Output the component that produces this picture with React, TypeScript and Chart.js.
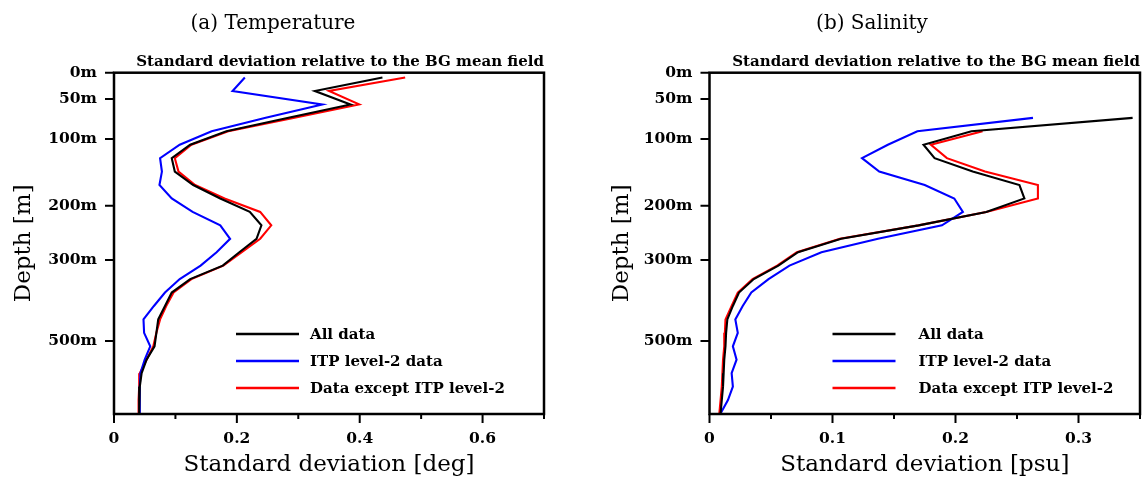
import React, { useEffect, useRef } from 'react';
import { Chart, registerables } from 'chart.js';

Chart.register(...registerables);

// Model levels (vertical coordinate, in level units) and depth tick positions/labels
const LEVELS = [0.36, 1.36, 2.36, 3.36, 4.36, 5.36, 6.36, 7.36, 8.36, 9.36, 10.36, 11.36, 12.36, 13.36, 14.36, 15.36, 16.36, 17.36, 18.36, 19.36, 20.36, 21.36, 22.36, 23.36, 24.36, 25.36];
const LEVEL_MAX = 25.4;
const DEPTH_TICK_POS = [0, 1.96, 4.93, 9.9, 13.94, 19.96];
const DEPTH_TICK_LABELS = ['0m', '50m', '100m', '200m', '300m', '500m'];

const SERIES_LABELS = ['All data', 'ITP level-2 data', 'Data except ITP level-2'];
const SERIES_COLORS = ['#000000', '#0000ff', '#ff0000'];

// (a) Temperature standard deviation [deg]
const TEMP_ALL = [0.437, 0.327, 0.385, 0.284, 0.183, 0.124, 0.094, 0.099, 0.129, 0.173, 0.221, 0.240, 0.232, 0.204, 0.177, 0.124, 0.094, 0.083, 0.072, 0.069, 0.066, 0.053, 0.045, 0.042, 0.041, 0.041];
const TEMP_ITP = [0.213, 0.193, 0.339, 0.247, 0.159, 0.107, 0.075, 0.078, 0.074, 0.094, 0.128, 0.173, 0.189, 0.167, 0.141, 0.107, 0.083, 0.065, 0.048, 0.049, 0.059, 0.050, 0.043, 0.042, 0.042, 0.042];
const TEMP_EXCEPT = [0.474, 0.350, 0.399, 0.292, 0.186, 0.126, 0.099, 0.105, 0.132, 0.180, 0.238, 0.256, 0.238, 0.208, 0.178, 0.126, 0.097, 0.085, 0.075, 0.069, 0.064, 0.053, 0.042, 0.041, 0.040, 0.040];
const TEMP_X_TICKS = [0, 0.2, 0.4, 0.6];
const TEMP_X_MINOR = [0.1, 0.3, 0.5, 0.7];
const TEMP_X_MAX = 0.7;

// (b) Salinity standard deviation [psu]
const SAL_ALL = [null, null, null, 0.344, 0.213, 0.174, 0.183, 0.214, 0.252, 0.256, 0.225, 0.170, 0.107, 0.072, 0.056, 0.036, 0.024, 0.019, 0.0145, 0.0135, 0.013, 0.012, 0.0115, 0.011, 0.010, 0.009];
const SAL_ITP = [null, null, null, 0.263, 0.169, 0.145, 0.124, 0.138, 0.175, 0.199, 0.206, 0.189, 0.137, 0.091, 0.065, 0.048, 0.034, 0.027, 0.021, 0.023, 0.019, 0.022, 0.018, 0.019, 0.015, 0.009];
const SAL_EXCEPT = [null, null, null, null, 0.222, 0.180, 0.193, 0.224, 0.267, 0.267, 0.225, 0.170, 0.106, 0.071, 0.055, 0.035, 0.023, 0.018, 0.013, 0.0125, 0.012, 0.011, 0.0105, 0.010, 0.009, 0.008];
const SAL_X_TICKS = [0, 0.1, 0.2, 0.3];
const SAL_X_MINOR = [0.05, 0.15, 0.25, 0.35];
const SAL_X_MAX = 0.35;

const FONT = '"DejaVu Serif", "Liberation Serif", serif';
const W = 571;
const H = 477;

type PanelCfg = {
  title: string;
  titleX: number;
  subtitle: string;
  xTitle: string;
  xMax: number;
  xTicks: number[];
  xMinor: number[];
  yAxisWidth: number;
  padRight: number;
  yTitleX: number;
  legendLine: [number, number];
  legendText: number;
  series: (number | null)[][];
};

const LEGEND_ROWS = [334, 361, 388];

function fmt(v: number) {
  return v === 0 ? '0' : String(+v.toFixed(2));
}

function panelPlugin(cfg: PanelCfg) {
  return {
    id: 'panelDecor',
    afterDraw(chart: any) {
      const { ctx, chartArea: a } = chart;
      const x = chart.scales.x;
      const y = chart.scales.y;
      ctx.save();
      ctx.strokeStyle = '#000';
      ctx.lineWidth = 2.5;
      ctx.strokeRect(a.left, a.top, a.right - a.left, a.bottom - a.top);
      ctx.lineWidth = 2;
      ctx.beginPath();
      DEPTH_TICK_POS.forEach((v) => {
        const py = y.getPixelForValue(v);
        ctx.moveTo(a.left - 9, py);
        ctx.lineTo(a.left, py);
      });
      cfg.xTicks.forEach((v) => {
        const px = x.getPixelForValue(v);
        ctx.moveTo(px, a.bottom);
        ctx.lineTo(px, a.bottom + 9);
      });
      cfg.xMinor.forEach((v) => {
        const px = x.getPixelForValue(v);
        ctx.moveTo(px, a.bottom);
        ctx.lineTo(px, a.bottom + 5);
      });
      ctx.stroke();

      ctx.fillStyle = '#000';
      ctx.textBaseline = 'alphabetic';
      ctx.font = `20px ${FONT}`;
      ctx.textAlign = 'center';
      ctx.fillText(cfg.title, cfg.titleX, 29);

      ctx.font = `bold 15px ${FONT}`;
      ctx.textAlign = 'right';
      ctx.fillText(cfg.subtitle, a.right, 66);

      ctx.font = `23px ${FONT}`;
      ctx.textAlign = 'center';
      ctx.fillText(cfg.xTitle, (a.left + a.right) / 2, 471);

      ctx.save();
      ctx.translate(cfg.yTitleX, (a.top + a.bottom) / 2);
      ctx.rotate(-Math.PI / 2);
      ctx.textBaseline = 'middle';
      ctx.textAlign = 'center';
      ctx.fillText('Depth [m]', 0, 0);
      ctx.restore();

      ctx.font = `bold 15px ${FONT}`;
      ctx.textAlign = 'left';
      ctx.textBaseline = 'middle';
      chart.data.datasets.forEach((ds: any, i: number) => {
        const ly = LEGEND_ROWS[i];
        ctx.strokeStyle = ds.borderColor;
        ctx.lineWidth = 2.4;
        ctx.beginPath();
        ctx.moveTo(a.left + cfg.legendLine[0], ly);
        ctx.lineTo(a.left + cfg.legendLine[1], ly);
        ctx.stroke();
        ctx.fillStyle = '#000';
        ctx.fillText(ds.label, a.left + cfg.legendText, ly + 1);
      });
      ctx.restore();
    },
  };
}

function toPoints(vals: (number | null)[]) {
  const pts: { x: number; y: number }[] = [];
  vals.forEach((v, i) => {
    if (v !== null) pts.push({ x: v, y: LEVELS[i] });
  });
  return pts;
}

function Panel({ cfg, left }: { cfg: PanelCfg; left: number }) {
  const ref = useRef<HTMLCanvasElement>(null);
  useEffect(() => {
    if (!ref.current) return;
    const tickFont = { family: FONT, size: 15.5, weight: 'bold' as const };
    const chart = new Chart(ref.current, {
      type: 'line',
      data: {
        datasets: cfg.series.map((vals, i) => ({
          label: SERIES_LABELS[i],
          data: toPoints(vals),
          borderColor: SERIES_COLORS[i],
          backgroundColor: SERIES_COLORS[i],
          borderWidth: 2.1,
          pointRadius: 0,
          fill: false,
          tension: 0,
        })),
      },
      options: {
        responsive: false,
        maintainAspectRatio: false,
        animation: false,
        layout: { padding: { top: 72.7, right: cfg.padRight, left: 0, bottom: 0 } },
        plugins: {
          legend: { display: false },
          title: { display: false },
          tooltip: { enabled: false },
        },
        scales: {
          x: {
            type: 'linear',
            min: 0,
            max: cfg.xMax,
            grid: { display: false, drawTicks: false },
            border: { display: false },
            afterBuildTicks: (s: any) => {
              s.ticks = cfg.xTicks.map((v) => ({ value: v }));
            },
            afterFit: (s: any) => {
              s.height = H - 414;
            },
            ticks: {
              font: tickFont,
              color: '#000',
              padding: 16,
              maxRotation: 0,
              autoSkip: false,
              callback: (v: any) => fmt(Number(v)),
            },
          },
          y: {
            type: 'linear',
            reverse: true,
            min: 0,
            max: LEVEL_MAX,
            grid: { display: false, drawTicks: false },
            border: { display: false },
            afterBuildTicks: (s: any) => {
              s.ticks = DEPTH_TICK_POS.map((v) => ({ value: v }));
            },
            afterFit: (s: any) => {
              s.width = cfg.yAxisWidth;
            },
            ticks: {
              font: tickFont,
              color: '#000',
              padding: 17,
              autoSkip: false,
              callback: (_v: any, i: number) => DEPTH_TICK_LABELS[i],
            },
          },
        },
      } as any,
      plugins: [panelPlugin(cfg)],
    });
    return () => chart.destroy();
  }, [cfg]);
  return (
    <canvas
      ref={ref}
      width={W}
      height={H}
      style={{ position: 'absolute', left, top: 0, width: W, height: H }}
    />
  );
}

const TEMP_CFG: PanelCfg = {
  title: '(a) Temperature',
  titleX: 273,
  subtitle: 'Standard deviation relative to the BG mean field',
  xTitle: 'Standard deviation [deg]',
  xMax: TEMP_X_MAX,
  xTicks: TEMP_X_TICKS,
  xMinor: TEMP_X_MINOR,
  yAxisWidth: 114,
  padRight: W - 544,
  yTitleX: 24,
  legendLine: [122, 185],
  legendText: 196,
  series: [TEMP_ALL, TEMP_ITP, TEMP_EXCEPT],
};

const SAL_CFG: PanelCfg = {
  title: '(b) Salinity',
  titleX: 872 - W,
  subtitle: 'Standard deviation relative to the BG mean field',
  xTitle: 'Standard deviation [psu]',
  xMax: SAL_X_MAX,
  xTicks: SAL_X_TICKS,
  xMinor: SAL_X_MINOR,
  yAxisWidth: 709.5 - W,
  padRight: W - (1140 - W),
  yTitleX: 622 - W,
  legendLine: [123, 186],
  legendText: 209,
  series: [SAL_ALL, SAL_ITP, SAL_EXCEPT],
};

export default function App() {
  return (
    <div style={{ position: 'absolute', left: 0, top: 0, width: 1142, height: 477, background: '#fff', overflow: 'hidden' }}>
      <Panel cfg={TEMP_CFG} left={0} />
      <Panel cfg={SAL_CFG} left={W} />
    </div>
  );
}
